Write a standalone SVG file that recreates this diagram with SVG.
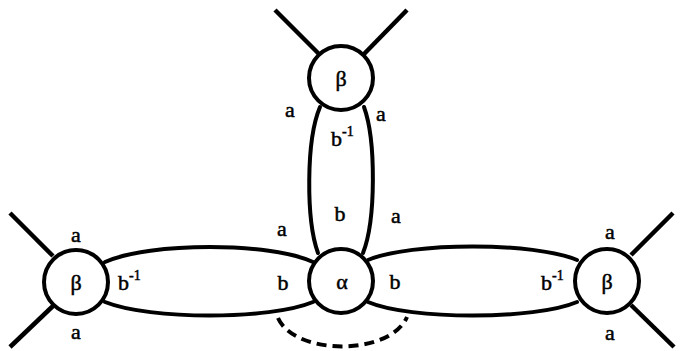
<svg xmlns="http://www.w3.org/2000/svg" width="683" height="351" viewBox="0 0 683 351">
<style>
.node{fill:#fff;stroke:#000;stroke-width:4}
.edge{fill:none;stroke:#000;stroke-width:4;stroke-linecap:round}
.leg{fill:none;stroke:#000;stroke-width:4.5;stroke-linecap:butt}
.dash{fill:none;stroke:#000;stroke-width:4;stroke-dasharray:10 6}
.t{font-family:"Liberation Serif","DejaVu Serif","Times New Roman",serif;font-size:22px;fill:#000;stroke:#000;stroke-width:0.5}
.lbl{text-anchor:middle}
.sup{font-size:14px}
</style>
<rect width="683" height="351" fill="#fff"/>
<g id="connectors">
<path class="leg" d="M10,213 L53,256"/>
<path class="leg" d="M10,347 L53,306"/>
<path class="leg" d="M275,10 L319,54"/>
<path class="leg" d="M407,10 L364,54"/>
<path class="leg" d="M673,213 L631,255"/>
<path class="leg" d="M674,347 L631,305"/>
<path class="edge" d="M105,262 C150,242 270,242 313,262"/>
<path class="edge" d="M105,302 C150,320 270,320 313,302"/>
<path class="edge" d="M368,260 C410,242 535,242 577,260"/>
<path class="edge" d="M368,302 C410,320 535,320 577,302"/>
<path class="edge" d="M320,107 C306,140 306,220 318,253"/>
<path class="edge" d="M364,107 C376,140 376,220 363,253"/>
<path class="dash" d="M278,318 C295,356 390,356 407,317"/>
</g>
<g id="beta-left">
<circle class="node" cx="76" cy="282" r="32"/>
<text class="t lbl" font-family="Liberation Serif, serif" x="76" y="290">β</text>
</g>
<g id="beta-top">
<circle class="node" cx="341" cy="78" r="32"/>
<text class="t lbl" font-family="Liberation Serif, serif" x="341" y="86">β</text>
</g>
<g id="alpha">
<circle class="node" cx="341" cy="281" r="32"/>
<text class="t lbl" font-family="Liberation Serif, serif" x="342" y="289">α</text>
</g>
<g id="beta-right">
<circle class="node" cx="607" cy="281" r="32"/>
<text class="t lbl" font-family="Liberation Serif, serif" x="607" y="289">β</text>
</g>
<g id="labels">
<text class="t lbl" font-family="Liberation Serif, serif" x="76" y="242">a</text>
<text class="t lbl" font-family="Liberation Serif, serif" x="76" y="339">a</text>
<text class="t" font-family="Liberation Serif, serif" x="118" y="290">b<tspan class="sup" dy="-10">-1</tspan></text>
<text class="t lbl" font-family="Liberation Serif, serif" x="290" y="117">a</text>
<text class="t lbl" font-family="Liberation Serif, serif" x="381" y="121">a</text>
<text class="t" font-family="Liberation Serif, serif" x="331" y="146">b<tspan class="sup" dy="-10">-1</tspan></text>
<text class="t lbl" font-family="Liberation Serif, serif" x="282" y="236">a</text>
<text class="t lbl" font-family="Liberation Serif, serif" x="340" y="221">b</text>
<text class="t lbl" font-family="Liberation Serif, serif" x="396" y="223">a</text>
<text class="t lbl" font-family="Liberation Serif, serif" x="283" y="290">b</text>
<text class="t lbl" font-family="Liberation Serif, serif" x="395" y="289">b</text>
<text class="t lbl" font-family="Liberation Serif, serif" x="610" y="239">a</text>
<text class="t lbl" font-family="Liberation Serif, serif" x="610" y="340">a</text>
<text class="t" font-family="Liberation Serif, serif" x="541" y="290">b<tspan class="sup" dy="-10">-1</tspan></text>
</g>
</svg>
